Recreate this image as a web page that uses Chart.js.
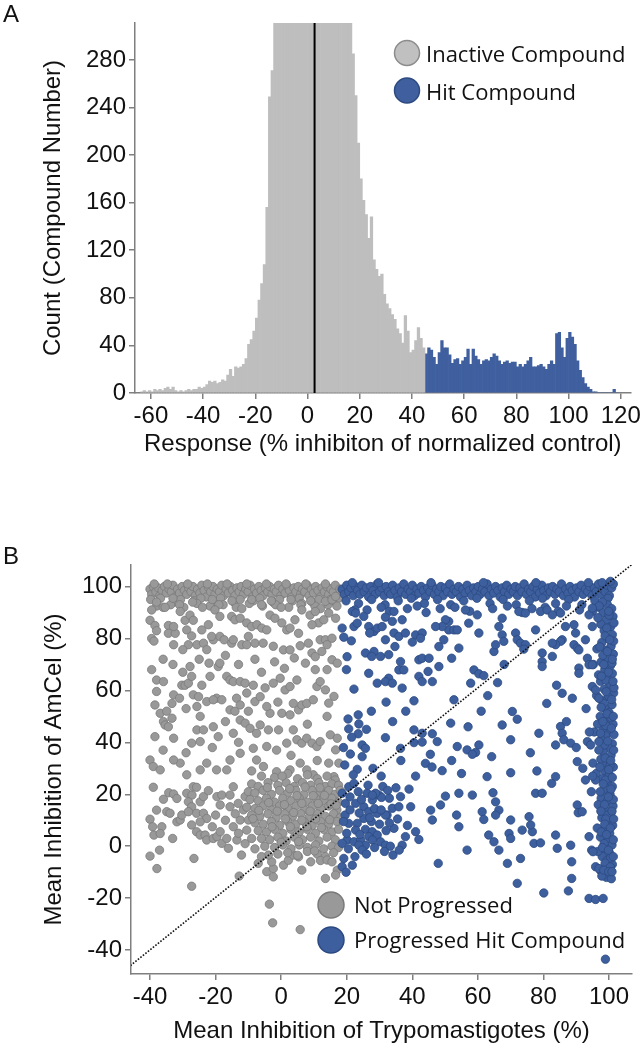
<!DOCTYPE html>
<html>
<head>
<meta charset="utf-8">
<script src="https://cdn.jsdelivr.net/npm/chart.js@4.4.1/dist/chart.umd.min.js"></script>
<style>
  body { margin: 0; background: #fff; }
  #wrap { position: relative; width: 644px; height: 1048px; overflow: hidden; }
  .box { position: absolute; left: 0; width: 644px; }
  #boxA { top: 0; height: 470px; }
  #boxB { top: 520px; height: 528px; }
  .panel { position: absolute; left: 3px; font: 24px 'Liberation Sans', Arial, sans-serif; line-height: 24px; color: #111; }
</style>
</head>
<body>
<div id="wrap">
  <div class="box" id="boxA"><canvas id="histogram"></canvas></div>
  <div class="box" id="boxB"><canvas id="scatter"></canvas></div>
  <div class="panel" style="top:2px">A</div>
  <div class="panel" style="top:544px">B</div>
</div>
<script>
// ---- panel A: histogram, 1% wide bins ----
const inactiveStart = -64; // left edge of first inactive bin
const inactiveCounts = [
  1, 2, 1, 2, 1, 3, 2, 3, 2, 4, 5, 3, 5, 2, 1, 2, 1, 2, 3, 2,      // -64 .. -45
  3, 3, 5, 4, 5, 7, 10, 9, 10, 8, 9, 11, 10, 15, 20, 14, 22, 21, 22, 24, // -44 .. -25
  29, 41, 45, 52, 63, 78, 92, 108, 156, 249, 271, 330, 360, 385, 405, 425, 440, 455, 465, 472, // -24 .. -5
  478, 482, 485, 484, 480, 476, 470, 462, 452, 440, 428, 414, 400, 386, 372, 360, 348, 338, 328, 320, // -4 .. 15
  314, 285, 250, 210, 180, 162, 150, 130, 148, 112, 104, 98, 100, 83, 75, 71, 66, 62, 54, 50, // 16 .. 35
  42, 65, 52, 34, 36, 44, 55, 46, 38                                // 36 .. 44
];
const hitStart = 45;
const hitCounts = [
  33, 38, 36, 30, 24, 34, 44, 38, 38, 32, 25, 28, 29, 24, 27, 30, 37, 24, 37, 31, // 45 .. 64
  28, 24, 27, 28, 27, 30, 33, 31, 27, 24, 26, 27, 25, 26, 26, 22, 24, 22, 24, 27, // 65 .. 84
  30, 22, 22, 23, 24, 22, 20, 24, 27, 24, 50, 51, 38, 30, 46, 51, 47, 41, 27, 19, // 85 .. 104
  13, 8, 5, 3, 1, 1, 0, 0, 0, 0, 0, 0, 3, 0                          // 105 .. 118
];
const meanResponse = 2.7;
const countMax = 311;

// ---- panel B: scatter ----
const grayTopBand = [
  [-40,99],[-39.5,97],[-39,100],[-38.2,98],[-37.5,99.5],[-37,96.5],[-36.3,98.5],[-35.6,100],[-35,97.5],[-34.2,99],
  [-33.5,98],[-33,100.5],[-32.3,96],[-31.6,99],[-31,97.5],[-30.2,100],[-29.5,98.5],[-28.8,97],[-28.2,99.5],[-27.5,98],
  [-26.9,100],[-26.2,96.5],[-25.5,99],[-24.8,97.5],[-24.2,100.5],[-23.5,98.5],[-22.8,96],[-22.1,99.5],[-21.5,98],[-20.8,100],
  [-20.2,97],[-19.5,99],[-18.8,98],[-18.1,100.5],[-17.5,96.5],[-16.8,99],[-16.1,97.5],[-15.5,100],[-14.8,98.5],[-14.1,96.5],
  [-13.5,99.5],[-12.8,98],[-12.2,100],[-11.5,97],[-10.8,99],[-10.1,98],[-9.5,100.5],[-8.8,96],[-8.1,99],[-7.5,97.5],
  [-6.8,100],[-6.1,98.5],[-5.5,96.5],[-4.8,99.5],[-4.1,98],[-3.5,100],[-2.8,97],[-2.1,99],[-1.5,98],[-0.8,100.5],
  [-0.1,96.5],[0.5,99],[1.2,97.5],[1.9,100],[2.5,98.5],[3.2,96],[3.9,99.5],[4.5,98],[5.2,100],[5.9,97],
  [6.5,99],[7.2,98],[7.9,100.5],[8.5,96.5],[9.2,99],[9.9,97.5],[10.5,100],[11.2,98.5],[11.9,96],[12.5,99.5],
  [13.2,98],[13.9,100],[14.5,97],[15.2,99],[15.9,98],[16.5,100.5],[17.2,96.5],[17.9,99],
  [-39.8,95],[-38.7,101],[-36.8,95.5],[-34.7,101],[-32.8,94],[-30.7,95],[-28.5,101],[-26.5,94.5],[-24.5,95.5],[-22.5,101],
  [-20.5,94],[-18.5,95.5],[-16.5,101],[-14.4,94],[-12.5,95],[-10.5,101],[-8.5,94.5],[-6.5,95.5],[-4.5,101],[-2.5,94],
  [-0.5,95],[1.5,101],[3.5,94.5],[5.5,95.5],[7.5,101],[9.5,94],[11.5,95],[13.5,101],[15.5,94.5],[17.5,95.5],
  [-38,92.5],[-33.7,93],[-29.7,92],[-25.7,93.5],[-21.7,92.5],[-17.7,93],[-13.7,92],[-9.7,93.5],[-5.7,92.5],[-1.7,93],
  [2.3,92],[6.3,93.5],[10.3,92.5],[14.3,93],
  [-38,94],[-36,92],[-33,95.5],[-31,93],[-27,94],[-24,92],[-21,95],[-19,93],[-15,94.5],[-12,91.5],
  [-9,95],[-6,93],[-3,94.5],[0,92],[3,95],[6,93],[9,94.5],[12,91.5],[15,95],[17,92.5]
];
const grayUpper = [
  [-39.5,91],[-40,87],[-38.5,85],[-39.5,80],[-38.8,79],[-38,83],[-35.4,92],[-34.4,85],[-34.4,82],[-32.3,82],
  [-32.8,77.6],[-32.8,84.6],[-30.8,90.4],[-29.3,87],[-27.8,89],[-26.8,87],[-28.8,83.3],[-27.3,81],[-25.7,77.6],[-24.2,83.3],
  [-22.2,85.3],[-20.2,91],[-18.7,88.5],[-20.7,79.5],[-18.7,80.8],[-17.4,79.5],[-15.1,88.5],[-14.1,87.2],[-12.5,87.8],[-10.5,86],
  [-9,84.6],[-7.4,85.3],[-5.9,84],[-4.4,83.3],[-3.4,89],[-1.9,87.8],[0.2,86],[1.7,83.3],[2.7,84],[4.2,87.2],
  [6.3,91],[8.8,89],[10.4,90.4],[11.4,86],[9.4,85.3],[5.3,82],[8.3,78.2],[11.9,79.5],[-28.3,77.6],[-30,75.7],
  [-23.7,78.2],[-22.7,75.7],[-21.2,80.8],[-15.1,78.2],[-14.6,79.5],[-12,77.6],[-10.5,77.6],[-10,80.8],[-8,78.2],[-5.5,78.2],
  [-2.4,77],[0.7,75.6],[2.7,75.6],[5.8,77.2],[9.4,74.4],[10.4,73],[12.4,75],
  [-39.5,68],[-38,64],[-35.9,63.4],[-38,59.6],[-38.5,54.4],[-36.9,51.2],[-34.9,52],[-33.3,55],[-32.8,58.3],[-33.3,49.3],
  [-35.9,48],[-35.4,46.7],[-34.4,46],[-38.5,42.2],[-32.8,41.6],[-30.3,62],[-29.3,62],[-28.3,62.8],[-27.8,69.2],[-27.3,65.4],
  [-26.8,58.3],[-25.2,57.6],[-25.7,53.8],[-24.7,50],[-25.7,44.8],[-23.7,44.8],[-20.7,46],[-27.3,39.7],[-24.7,40.3],[-24.2,62],
  [-21.7,65.4],[-19.2,69.2],[-18.7,70.5],[-16.6,65.4],[-15.6,64],[-14.6,63.4],[-19.7,57],[-18.1,56.4],[-22.7,55.7],[-20.7,56.4],
  [-15.6,52.5],[-14.1,52],[-12.5,63.4],[-11,62.8],[-8.5,62],[-10.5,59],[-8,55.7],[-6.4,57.6],[-13.6,57],[-12.5,54.4],
  [-12.5,48.6],[-11,47.4],[-9.5,45.4],[-7.5,43.5],[-6.4,46.7],[-3.9,44.8],[-0.8,44.8],[0.2,51.2],[-3.4,51.2],[-4.4,53.8],
  [-4.9,61],[-2.4,62.8],[-0.3,64.7],[1.2,60.2],[2.7,61.5],[3.7,55],[5.3,52.5],[6.3,54.4],[7.8,55],[9.8,56.4],
  [10.9,61.5],[11.9,63.4],[10.4,68],[7.4,70.5],[4.8,64],[2.7,50.6],[3.7,44.8],[4.8,41],[6.3,39.7],[7.8,41.6],
  [9.4,39.7],[10.9,38.4],[11.9,40.3],[1.7,39.7],[-1.4,37],[-4.4,38.4],[-8.5,37.7],[-12.5,35.8],[-15.6,33.2],[-16.6,29.4],
  [-19.7,29.4],[-22.7,32],[-24.7,29.4],[-28.8,27.5],[-30.8,32],[-32.8,33.2],[-40,33.2],[-39,30.7],[-36.9,29.4],[-7.5,33.2],
  [-5.4,30.7],[-1.4,28.7],[2.7,29.4],[5.8,32],[7.8,29.4],[9.8,27.5],[-14.6,43.5],[-19.2,42.2],
  [-36,72],[-33,70],[-30,67],[-25,72],[-22,70.5],[-17,73.5],[-13,70],[-8,72],[-6,67],[-2,71],
  [1,68.5],[4,72.5],[-31,57],[-29,53],[-17,48],[-10,52],[-1,55.5],[8,47],[-36,37],[-29,36],
  [-21,38],[-13,40],[-9,29],[3,35],[11,33],
  [13.5,94.3],[15.5,94.9],[16.6,96.2],[14.5,89.8],[13,87.2],[16.6,87.8],[13.5,79.5],[15.5,80.1],[14,77.6],[15.5,71.8],
  [17.1,70.5],[14,68],[13.5,60.2],[16.1,57.7],[14.5,55.1],[14,50],[15,42.9],[17.1,41.6],[16.6,37.1],[14.5,32],
  [17.6,32],[16.1,26.8]
];
const grayLower = [
  [-39,22.7],[-35.9,18.1],[-40,10.4],[-39.2,7.5],[-38.8,4.3],[-36.4,7.5],[-36.9,4.9],[-34.3,20.6],[-32.8,20.1],[-31.8,18.4],
  [-34.9,13.3],[-33.9,12.7],[-38,13.9],[-31.8,9.4],[-30.8,10.1],[-30.3,12],[-33.1,3],[-28.8,20.4],[-27.2,19.7],[-26.8,22.9],
  [-25.8,22.7],[-28.3,17.1],[-27.3,15.2],[-24.7,17.1],[-23.7,19.1],[-22.2,21.4],[-19.6,19.1],[-18.1,19.7],[-15.6,19.7],[-14.6,22.9],
  [-18.6,15.9],[-15.6,15.2],[-13.1,16.5],[-11,19.1],[-28.3,13.3],[-25.8,12.7],[-23.7,12.7],[-22.7,10.7],[-24.7,9.4],[-27.3,8.2],
  [-25.8,5.6],[-24.7,4.3],[-23.2,4.3],[-22.7,2.4],[-20.7,3],[-19.6,3.7],[-18.6,5.6],[-18.1,1.1],[-16.6,3],[-16.1,-0.8],
  [-13.5,2.4],[-14.6,7.5],[-12.5,10.1],[-12.1,-3.4],[-10.5,6.2],[-10,10.1],[-9,3],[-7,-6.6],[-4.4,-9.8],[-2.4,-8.6],
  [-2.4,-11.8],[-2.9,-6],[-3.9,-3.4],[0.7,-7.3],[2.2,-5.4],[3.7,-3.4],[5.3,-4.1],[6.3,-9.2],[-40,-3.8],[-37.1,-1.5],
  [-37.9,-8.6],[-26.6,-4.7],[-27.3,-15.4],[-12.8,-11.5],[-3.6,-22.3],[-2.6,-29.5],[5.8,-32.1],
  [-20,12],[-17,10],[-21,7.5],[-14,12.5],[-11.5,14],[-13,5],[-8,-1],[-6,-4],[-11,1]
];
const grayCluster = [
  [-6,27],[-2,26.5],[2,28],[5,26],[8,27.5],[11,26],[14,27],[16.5,25.5],
  [-9,24],[-7,23],[-4,24.5],[-1,23.5],[1.5,24.5],[4,23],[6.5,24.5],[9,23.5],[11.5,24.5],[13.5,23],[15.5,24],[17.5,23.5],
  [-10,21],[-8,20.5],[-5.5,21.5],[-3,20],[-0.5,21.5],[2,20.5],[4.5,21.5],[7,20],[9.5,21.5],[12,20.5],[14.5,21.5],[16.5,20],[18,21.5],
  [-9.5,18],[-7,17.5],[-4.5,18.5],[-2,17],[0.5,18.5],[3,17.5],[5.5,18.5],[8,17],[10.5,18.5],[13,17.5],[15.5,18.5],[17.5,17],
  [-10.5,15],[-8,14.5],[-5.5,15.5],[-3,14],[-0.5,15.5],[2,14.5],[4.5,15.5],[7,14],[9.5,15.5],[12,14.5],[14.5,15.5],[17,14],
  [-9,12],[-6.5,11.5],[-4,12.5],[-1.5,11],[1,12.5],[3.5,11.5],[6,12.5],[8.5,11],[11,12.5],[13.5,11.5],[16,12.5],[18,11],
  [-8,9],[-5.5,8.5],[-3,9.5],[-0.5,8],[2,9.5],[4.5,8.5],[7,9.5],[9.5,8],[12,9.5],[14.5,8.5],[17,9.5],
  [-7,6],[-4.5,5.5],[-2,6.5],[0.5,5],[3,6.5],[5.5,5.5],[8,6.5],[10.5,5],[13,6.5],[15.5,5.5],[17.5,6.5],
  [-6,3],[-3.5,2.5],[-1,3.5],[1.5,2],[4,3.5],[6.5,2.5],[9,3.5],[11.5,2],[14,3.5],[16.5,2.5],
  [-5,0],[-2,-0.5],[0.5,0.5],[3,-1],[5.5,0.5],[8,-0.5],[10.5,0.5],[13,-1],[15.5,0],[17.5,-0.5],
  [-1,-3],[2,-2.5],[5,-3.5],[8,-2],[11,-3],[13.5,-4],[16,-2.5],
  [9,-6],[12,-5.5],[14,-5.3],[15.5,-6],[17.1,-9.2],[16.6,-11.1],[13.5,-12.4],
  [1,16],[3.8,13],[6.3,16.5],[8.8,13.5],[11.3,16.5],[1.3,10.5],[6.3,10],[10.5,10.5],[-1.2,13.5],[4.8,19.5],
  [9.8,19.5],[2.8,7.5],[7.8,7.5],[12.3,7.2],[0,1.5],[5.3,1.8],[10.2,-1.8],[14.8,10.2],[15.2,16.3],[-6.8,13.8],
  [-3.8,16.8],[-2.8,7.5],[11.8,22.5],[7.3,22.8],[2.6,22.2],[-4.2,22.6],[0.3,27],[13.2,19.6],[16.8,15.8],[-8.6,10.6]
];
const blueTopBand = [
  [18.6,99],[19.3,97],[20,100.5],[20.6,98],[21.3,99.5],[22,96.5],[22.6,100],[23.3,98.5],[24,97],[24.6,100.5],
  [25.3,98],[26,99.5],[26.7,96],[27.3,100],[28,98.5],[28.7,97],[29.3,101],[30,98],[30.7,99.5],[31.4,96.5],
  [32,100],[32.7,98],[33.4,97],[34,100.5],[34.7,98.5],[35.4,96],[36,99.5],[36.7,98],[37.4,101],[38,97],
  [38.7,99],[39.4,98],[40,100.5],[40.7,96.5],[41.4,99],[42,97.5],[42.7,100],[43.4,98.5],[44,96],[44.7,99.5],
  [45.4,98],[46,100.5],[46.7,97],[47.4,99],[48.1,98],[48.7,100],[49.4,96.5],[50.1,99.5],[50.7,98],[51.4,101],
  [52.1,97],[52.7,99],[53.4,98],[54.1,100],[54.7,96],[55.4,99],[56.1,97.5],[56.7,100.5],[57.4,98.5],[58.1,96.5],
  [58.7,99.5],[59.4,98],[60.1,100],[60.7,97],[61.4,99],[62.1,98],[62.8,101],[63.4,96.5],[64.1,99],[64.8,97.5],
  [65.4,100],[66.1,98.5],[66.8,96],[67.4,99.5],[68.1,98],[68.8,100.5],[69.4,97],[70.1,99],[70.8,98],[71.4,100],
  [72.1,96.5],[72.8,99.5],[73.4,98],[74.1,101],[74.8,97],[75.4,99],[76.1,98],[76.8,100],[77.5,96],[78.1,99],
  [78.8,97.5],[79.5,100.5],[80.1,98.5],[80.8,96.5],[81.5,99.5],[82.1,98],[82.8,100],[83.5,97],[84.1,99],[84.8,98],
  [85.5,101],[86.1,96.5],[86.8,99],[87.5,97.5],[88.1,100],[88.8,98.5],[89.5,96],[90.1,99.5],[90.8,98],[91.5,100.5],
  [92.1,97],[92.8,99],[93.5,98],[94.1,100],[94.8,96.5],[95.5,99.5],[96.1,98],[96.8,101],[97.5,97],[98.1,99],
  [98.8,98],[99.4,100.5],[100.1,96.5],[100.8,99.5],[101.3,101],
  [19.8,94.5],[23.6,93.5],[27.6,95],[31.7,93],[35.7,94.5],[39.7,95.5],[43.7,93.5],[47.7,95],[51.7,93],[55.7,94.5],
  [59.7,95.5],[63.7,93.5],[67.7,95],[71.7,93],[75.7,94.5],[79.7,95.5],[83.7,93.5],[87.7,95],[91.7,93],[95.7,94.5],
  [99.7,95.5],[21.7,101.5],[29.7,101.5],[45.7,101.5],[61.7,101.5],[77.7,101.5],[93.7,101.5],[97.9,101.5],[100.4,102],
  [22.5,91],[30.5,92],[33,90.5],[38.5,91.5],[41.5,92.5],[44.2,90],[48.5,91.5],[53,92],[57.5,90.5],[64.5,91.5],
  [69,92.5],[73.5,90],[76.5,91.5],[80.5,92],[84.5,90.5],[87,92.5],[91,91],[95,90.5],[97,92]
];
const blueColumn = [
  [99.5,93],[100.8,91.5],[98.2,90],[101.2,88.5],[99,87],[97.5,85.5],[100.5,84.5],[98.5,83],[101,81.5],[99.6,80],
  [97.8,78.5],[100.6,77],[98.9,75.5],[101.3,74],[99.8,72.5],[97.6,71],[100.4,69.5],[98.7,68],[101,66.5],[99.3,65],
  [97.4,63.5],[100.2,62],[98.5,60.5],[101.4,59],[99.7,57.5],[97.9,56],[100.9,54.5],[98.8,53],[100,51.5],[97.3,50],
  [99.5,48.5],[101.2,47],[98.3,45.5],[100.4,44],[99,42.5],[97.7,41],[101,39.5],[99.8,38],[98.2,36.5],[100.6,35],
  [97.5,33.5],[99.3,32],[101.3,30.5],[98.7,29],[100.1,27.5],[97.9,26],[99.6,24.5],[101,23],[98.4,21.5],[100.3,20],
  [97.6,18.5],[99.2,17],[101.2,15.5],[98.9,14],[100.5,12.5],[97.8,11],[99.7,9.5],[101.1,8],[98.3,6.5],[100.2,5],
  [97.4,3.5],[99.5,2],[100.9,0.5],[98.6,-1],[100.1,-2.5],[97.9,-4],[99.3,-5.5],[101,-7],[98.4,-8.5],[99.9,-10],
  [98,94],[100,89],[99.3,84],[101.4,79],[98.1,73.5],[100.9,70.5],[99,64],[101.5,61],[98.3,55],[100.6,49.5],
  [99,46.5],[101.5,43],[98.6,39],[100.3,31],[98.9,25.5],[101.3,18],[99.4,12],[98.5,1],[100.5,-4.5],[96.6,88],
  [96.3,76],[96.8,66],[96.2,58],[96.5,47],[96.9,37],[96.1,28],[96.7,16],[96.4,7],[96.6,-2],[95.2,70],
  [94.9,61.5],[95.5,44],[95.1,32],[94.6,21],
  [97,92.5],[99.9,90.5],[101.5,86],[98.8,81],[100.2,79.5],[97.2,76.8],[99.5,75],[101,72],[98.4,70],[99.8,67],
  [97.7,65.5],[101.2,63.5],[99.1,59.5],[100.8,56.5],[97.6,53.5],[99.4,51],[101.3,50],[98.1,48],[100.7,45.5],[97.4,43.5],
  [99.6,40.5],[101.4,37],[98.8,34],[100.5,33],[97.2,30.5],[99.9,29.5],[101,26.5],[98.2,24],[100.6,22],[97.3,21],
  [99.8,19],[98.6,16],[100.9,13.5],[97.5,13.5],[99,10.5],[101.4,10.5],[98.7,8.5],[100.4,7],[97.6,5.5],[99.2,4.5],
  [101.3,2.5],[98,-0.5],[99.8,-1.5],[101.3,-4],[98.8,-6.5],[100.4,-8],[97.5,-9.5],[99.2,-12],[100.7,-12.5],[97.8,-11.5]
];
const blueScatter = [
  [21.7,90.4],[22.7,89.8],[18.6,84],[22.2,84.6],[19.1,80.5],[21.4,79.1],[20.1,73],[19.9,68],[22.2,60.5],[20.4,49],
  [20.6,45.2],[23.5,50.6],[23.7,47.1],[23.5,43.3],[24.7,39],[25.7,37.7],[21.1,35.5],[24.7,34.5],[23.2,29.6],[19.4,31.3],
  [26.2,91],[25.2,88.5],[23.2,85.9],[26.7,84.6],[28.3,82.7],[27,82.1],[29.3,84],[30.8,84.6],[31.8,88.2],[34.4,90.4],
  [33.9,86.6],[36.9,87.2],[31.8,79.5],[34.4,82.1],[35.9,80.8],[37.9,82.1],[41,81.4],[43,82.1],[42.5,80.1],[40,78.6],
  [34.7,76.9],[25.7,74.4],[28.3,75],[27.6,73.1],[30.3,73.1],[32.8,73.8],[36.4,71.1],[35.9,67.9],[26.7,66.6],[32.8,64.7],
  [31.8,63.4],[33.9,62.8],[36.9,60.9],[29.3,62.8],[37.4,67.9],[42,71.8],[43,72.4],[45.1,72.4],[48.1,76.9],[49.6,79.5],
  [51.1,83.3],[52.7,83.3],[53.7,83.3],[54.2,76.3],[48.1,69.2],[44.8,67.3],[42,65.4],[43,63.4],[46.1,63.4],[52,72.4],
  [51.1,86.6],[50.1,87.2],[49.1,84.6],[47.1,84.6],[56.2,91],[59.8,89.1],[57.2,85.9],[60.3,82.1],[64.9,75],[58.8,67.9],
  [60.3,66.4],[61.8,65.7],[57.8,62.8],[52.7,56.4],[51.7,47.4],[40.5,44.8],[43,43.5],[46.1,43.3],[47.6,40.3],[31.8,41.8],
  [36.4,37.7],[40.5,39.9],[43,40.1],[45.5,35.4],[44,31.9],[53.7,38.4],[56.7,37.1],[59.3,36.1],[58.3,35.4],[64.2,34.5],
  [49.1,29.1],[60.3,39],[67.4,87.8],[66.4,84.6],[67.4,81.4],[67.9,78.9],[65.4,77.6],[71.5,82.1],[72,79.5],[73,78.2],
  [74.5,77.6],[74,75.9],[72.5,90.4],[74.5,89.8],[77.6,83.3],[79.1,90.4],[81.1,91],[82.7,89.1],[85.2,89.8],[86.7,84.6],
  [89.3,85.3],[89.8,82.1],[92.8,79.5],[94.9,84.6],[93.9,89.1],[94.9,91.7],[85.7,79.5],[85.2,78.9],[83.7,77.6],[82.7,78.2],
  [82.7,73.1],[79.6,74.4],[79.6,71.1],[79.6,69.2],[89.3,77.6],[90.3,76.3],[90.8,75.6],[93.4,72.4],[93.9,69.9],[94.9,69.9],
  [90.8,68.6],[90.8,66.6],[85.7,58.9],[88.8,57],[95.9,60.2],[96.9,57],[85.2,46.1],[85.7,43.5],[86.2,41],[88.3,39.7],
  [83.7,39],[78.6,43.5],[70.5,51.9],[72,48.9],[67.4,46.7],[93.4,40.3],[94.4,39],[96.9,40.3],[90.3,32.6],[83.7,26.8],
  [70,28.3],[62.8,26.8],
  [18.6,20.4],[20.6,22.9],[22.2,24.2],[19.6,16.5],[22.7,16.5],[25.2,15.2],[27.8,17.8],[29.8,19.7],[30.6,18.8],[26.7,13.3],
  [29.3,12.7],[32.3,12],[33.9,14.6],[25.2,10.7],[23.2,8.8],[20.6,8.8],[22.7,6.2],[25.7,6.5],[27.8,5.6],[29.3,4.3],
  [26.7,3.7],[20.1,2.4],[18.6,1.1],[22.2,1.7],[24.2,2.4],[25.7,0.4],[27.8,2.4],[30.3,1.7],[31.8,0.4],[33.3,0],
  [36.9,0.4],[34.1,-3.4],[19.1,-4.7],[21.7,-7.3],[18.6,-7.9],[23.7,0.4],[24.7,-1.5],[26.2,20.4],[28.8,20.4],[31.8,12],
  [27.8,19.7],[36.4,19.1],[39.5,15.2],[35.9,15.2],[34.4,6.9],[37.9,3.7],[41,5.6],[42,2.6],[45.6,13.9],[48.6,15.9],
  [46.1,10.1],[50.1,19.3],[54.2,20.4],[58.3,19.7],[53.5,12],[54.2,7.5],[56.7,-1.5],[47.9,-6.6],[61.3,13.3],[61.8,10.3],
  [65.4,17.1],[66.4,13.9],[64.6,20.6],[65.4,12],[63.3,4.3],[64.9,1.7],[66.4,-1.5],[70,10.1],[69.5,4.9],[70,3],
  [69,-6.6],[72,-14.3],[73,-4.7],[73.5,6.2],[76.6,5.6],[76.1,8.2],[75.6,11.4],[77.6,20.4],[79.6,20.4],[77.1,1.1],
  [79.1,1.3],[80.1,-18],[83.7,4.3],[84.2,-0.8],[82.5,24.2],[87.6,-17.2],[88.3,0.4],[88.6,-6],[88.6,-12.4],[90.3,15.9],
  [90.6,12.9],[91.8,13.3],[93.9,3.7],[94.7,-1.5],[95.1,-2.1],[93.9,-20.1],[95.9,-20.5],[98.2,-20.1],[98.9,-43.5],[95.9,-7.9],
  [96.9,-8.6],[98.4,-9.2],[99.9,-9.8],[100.9,-9.8],[92.8,25.5],[95.9,25.5],
  [19,38],[21.5,42],[26,45],[28,30],[30.5,27],[22,27.5],[27.5,52],[32,55.5],[34,48],[38,52],
  [40.5,56],[36.5,33],[41,27],[46,30.5],[52,33],[55,28],[57,46],[61,52],[63,58],[66,63],
  [68,70],[70,41],[76,36],[78,29],[81,55],[84,62],[87,48],[90,38],[92,30],[93,53],
  [94,44],[95,27],
  [19.5,12],[21,19],[23.5,21],[24.5,18],[21,14],[23.8,12.8],[27.5,9.5],[30,8.5],[32,6],[28.5,-0.5],
  [20,5],[19,9.5],[26.5,23.5],[31,23],[35,22.5],[33,18.5],
  [20.5,-1],[22.5,-4],[24,4.5],[26,-3],[27,11],[28.5,14.5],[30.5,14],[31.5,-2],[33,9],[35.5,10.5],
  [36,-1.5],[38.5,8],[39,22],[32.5,21.5],[19.8,-10]
];
const identityLine = [[-46,-46],[107,108.5]];

// ---- shared styling ----
const sans = "'Liberation Sans', Arial, sans-serif";
const tickFont = { family: sans, size: 24 };
const axisGray = '#7f7f7f';

function axis(min, max, step, title, titlePadding, fixedSize, horizontal) {
  return {
    type: 'linear',
    min: min,
    max: max,
    offset: false,
    border: { display: true, color: axisGray, width: 1.5 },
    grid: { display: true, offset: false, drawOnChartArea: false, drawTicks: true, tickLength: 6, color: axisGray, lineWidth: 1.5 },
    ticks: { stepSize: step, includeBounds: false, color: '#111', font: tickFont, padding: 3, maxRotation: 0, autoSkip: false },
    title: { display: true, text: title, color: '#111', font: tickFont, padding: titlePadding },
    afterFit: s => { if (horizontal) s.height = fixedSize; else s.width = fixedSize; }
  };
}

// legend drawn as big circles next to text, like the figure
const circleLegend = {
  id: 'circleLegend',
  afterDraw(chart, args, opts) {
    const ctx = chart.ctx;
    ctx.save();
    ctx.font = opts.font;
    ctx.textBaseline = 'alphabetic';
    opts.items.forEach(it => {
      const ds = chart.data.datasets[it.dataset];
      ctx.beginPath();
      ctx.arc(it.cx, it.cy, opts.radius, 0, Math.PI * 2);
      ctx.fillStyle = it.fill;
      ctx.fill();
      ctx.lineWidth = 1.5;
      ctx.strokeStyle = it.stroke;
      ctx.stroke();
      ctx.fillStyle = '#111';
      ctx.fillText(ds.label, it.tx, it.ty);
    });
    ctx.restore();
  }
};

const histGray = '#bebebe';
const histBlue = '#3f5f9f';

new Chart(document.getElementById('histogram'), {
  type: 'bar',
  data: {
    datasets: [
      {
        type: 'line', label: 'mean',
        data: [{ x: meanResponse, y: 0 }, { x: meanResponse, y: countMax }],
        borderColor: '#000', borderWidth: 2, pointRadius: 0, order: 0
      },
      {
        label: 'Inactive Compound',
        data: inactiveCounts.map((c, i) => ({ x: inactiveStart + i + 0.5, y: c })),
        backgroundColor: histGray, grouped: false, barPercentage: 1, categoryPercentage: 1, borderWidth: 0, order: 1
      },
      {
        label: 'Hit Compound',
        data: hitCounts.map((c, i) => ({ x: hitStart + i + 0.5, y: c })),
        backgroundColor: histBlue, grouped: false, barPercentage: 1, categoryPercentage: 1, borderWidth: 0, order: 2
      }
    ]
  },
  options: {
    animation: false,
    responsive: true,
    maintainAspectRatio: false,
    devicePixelRatio: 1,
    layout: { padding: { top: 23, right: 12, left: 0, bottom: 0 } },
    plugins: {
      legend: { display: false },
      tooltip: { enabled: false },
      circleLegend: {
        font: "22px 'Open Sans', sans-serif",
        radius: 12.5,
        items: [
          { dataset: 1, cx: 407, cy: 53, tx: 426, ty: 61.5, fill: '#c0c0c0', stroke: '#8c8c8c' },
          { dataset: 2, cx: 407, cy: 90.5, tx: 426, ty: 99.5, fill: '#3f5f9f', stroke: '#2d4a80' }
        ]
      }
    },
    scales: {
      x: axis(-66.1, 123.8, 20, 'Response (% inhibiton of normalized control)', { top: 0, bottom: 11 }, 77, true),
      y: axis(0, countMax, 40, 'Count (Compound Number)', { top: 39, bottom: 0 }, 135, false)
    }
  },
  plugins: [circleLegend]
});

new Chart(document.getElementById('scatter'), {
  type: 'scatter',
  data: {
    datasets: [
      {
        label: 'y = x', data: identityLine, showLine: true,
        borderColor: '#111', borderWidth: 1.6, borderDash: [1.6, 1.6], pointRadius: 0, order: 0
      },
      {
        label: 'Progressed Hit Compound',
        data: [...blueTopBand, ...blueColumn, ...blueScatter],
        backgroundColor: '#3e5f9e', borderColor: '#2b4a82', borderWidth: 0.8, pointRadius: 4.2, order: 1
      },
      {
        label: 'Not Progressed',
        data: [...grayTopBand, ...grayUpper, ...grayLower, ...grayCluster],
        backgroundColor: '#999999', borderColor: '#7a7a7a', borderWidth: 0.8, pointRadius: 4.2, order: 2
      }
    ]
  },
  options: {
    animation: false,
    responsive: true,
    maintainAspectRatio: false,
    devicePixelRatio: 1,
    layout: { padding: { top: 45, right: 12, left: 0, bottom: 0 } },
    plugins: {
      legend: { display: false },
      tooltip: { enabled: false },
      circleLegend: {
        font: "22px 'Open Sans', sans-serif",
        radius: 13,
        items: [
          { dataset: 2, cx: 331, cy: 385, tx: 354, ty: 393, fill: '#999999', stroke: '#7a7a7a' },
          { dataset: 1, cx: 331, cy: 420, tx: 354, ty: 428, fill: '#3e5f9e', stroke: '#2b4a82' }
        ]
      }
    },
    scales: {
      x: axis(-45.8, 107, 20, 'Mean Inhibition of Trypomastigotes (%)', { top: 0, bottom: 2 }, 74, true),
      y: axis(-49.2, 108.3, 20, 'Mean Inhibition of AmCel (%)', { top: 40, bottom: 0 }, 131, false)
    }
  },
  plugins: [circleLegend]
});
</script>
</body>
</html>
